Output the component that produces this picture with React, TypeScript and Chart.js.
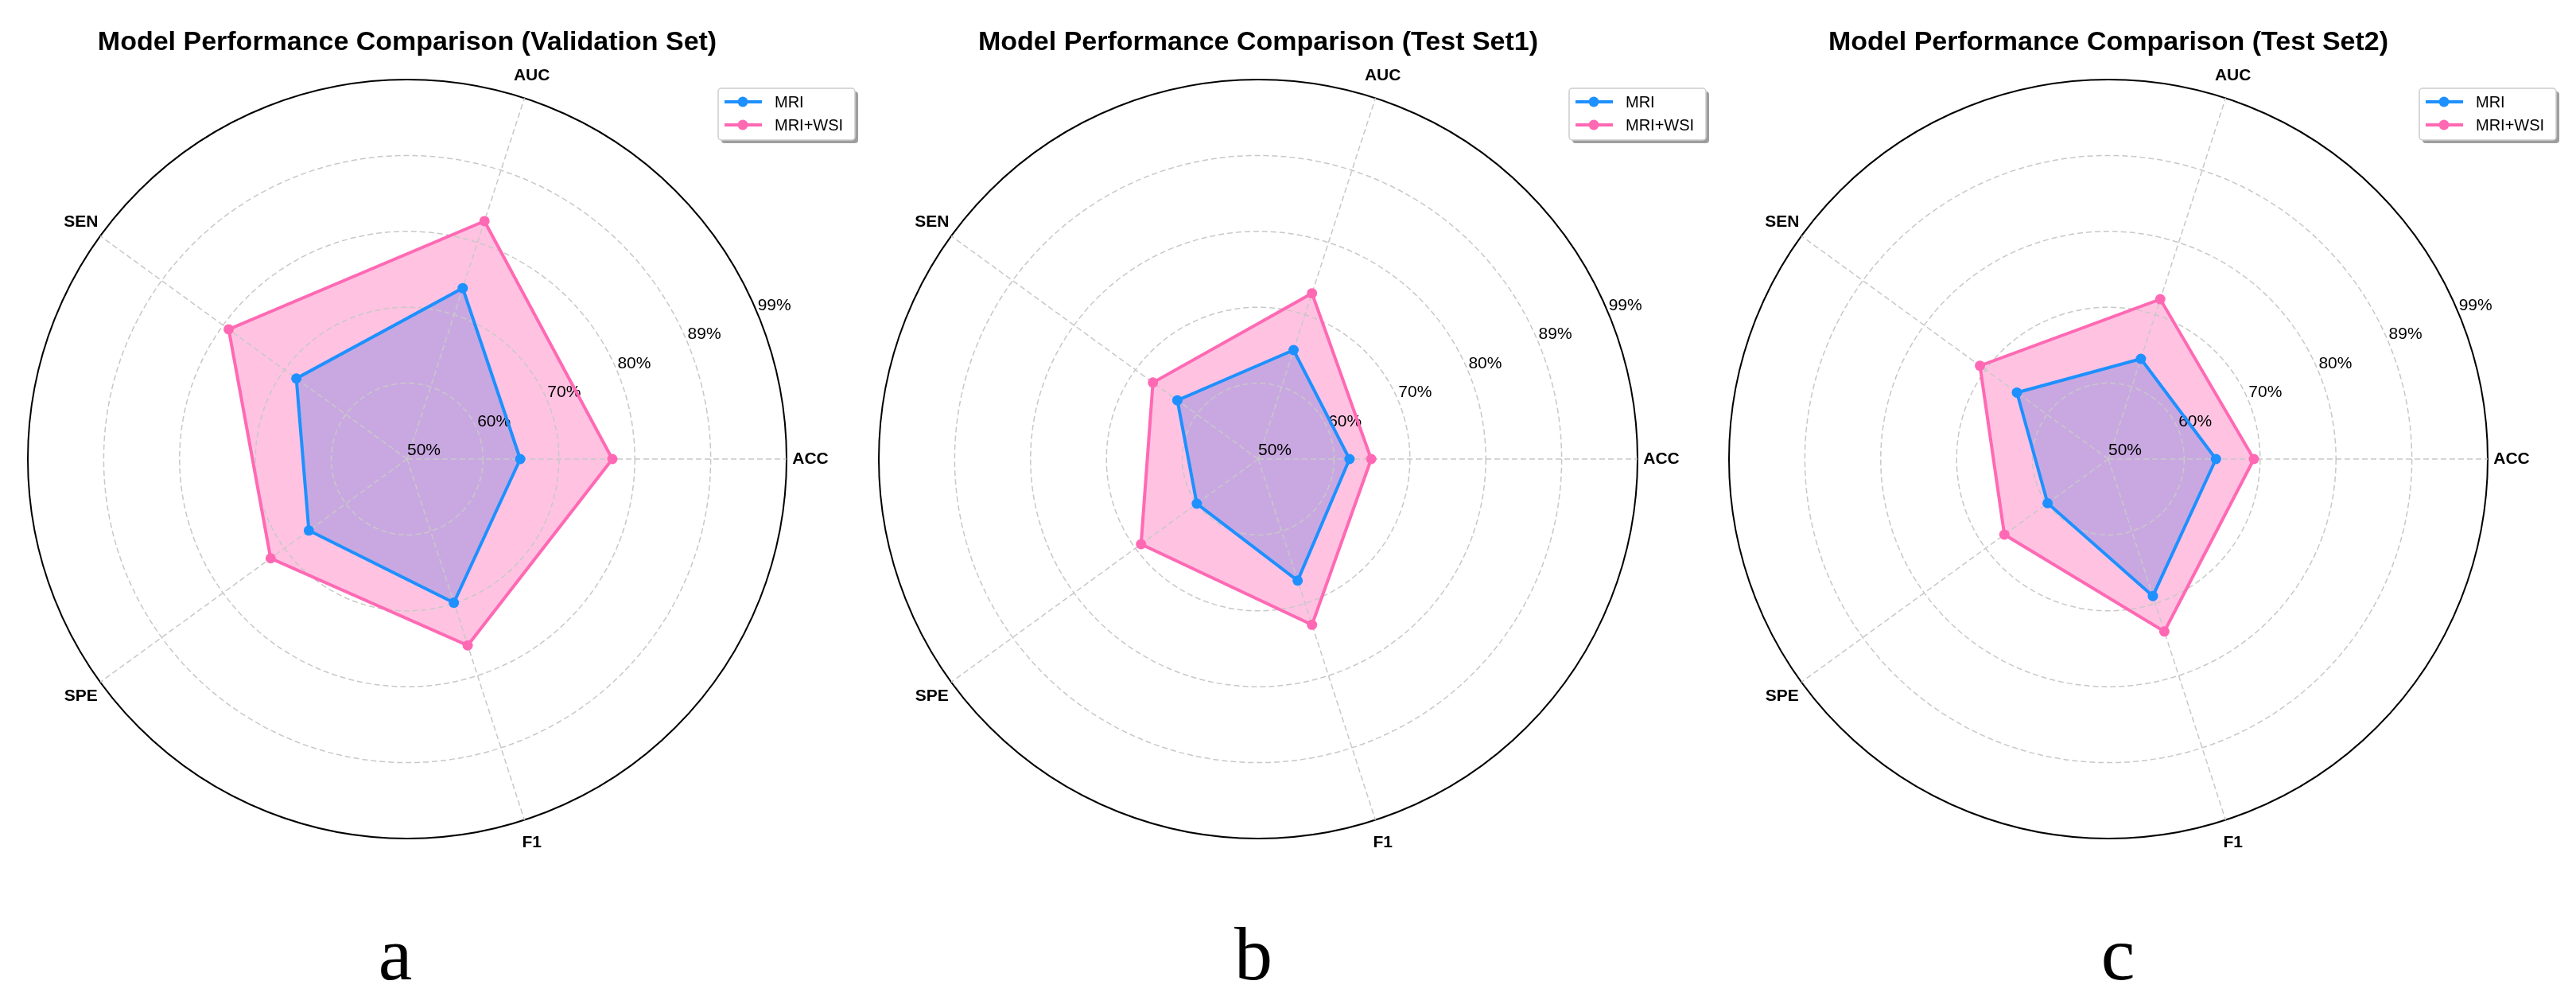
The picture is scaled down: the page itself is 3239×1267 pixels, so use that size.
import React, { useEffect, useRef } from 'react';
import { Chart, registerables } from 'chart.js';

Chart.register(...registerables);

// ---------------- data ----------------
// categories in clockwise order starting from the right-hand axis
const CATEGORIES = ['ACC', 'F1', 'SPE', 'SEN', 'AUC'];
const SERIES = ['MRI', 'MRI+WSI'];
const TICK_VALUES = [50, 59.8, 69.6, 79.4, 89.2, 99];
const TICK_LABELS = ['50%', '60%', '70%', '80%', '89%', '99%'];
const TITLES = [
  'Model Performance Comparison (Validation Set)',
  'Model Performance Comparison (Test Set1)',
  'Model Performance Comparison (Test Set2)',
];
const PANEL_LETTERS = ['a', 'b', 'c'];

const VALIDATION_MRI = [64.6, 69.5, 65.7, 67.7, 73.2];
const VALIDATION_MRI_WSI = [76.5, 75.3, 71.8, 78.5, 82.3];
const TEST1_MRI = [61.8, 66.5, 59.8, 62.9, 64.8];
const TEST1_MRI_WSI = [64.6, 72.5, 68.7, 66.8, 72.5];
const TEST2_MRI = [63.9, 68.6, 59.7, 64.6, 63.6];
const TEST2_MRI_WSI = [68.8, 73.4, 66.6, 70.5, 71.7];

const PANEL_DATA = [
  [VALIDATION_MRI, VALIDATION_MRI_WSI],
  [TEST1_MRI, TEST1_MRI_WSI],
  [TEST2_MRI, TEST2_MRI_WSI],
];

// ---------------- layout / style ----------------
const PAGE_W = 3239;
const PAGE_H = 1267;
const CENTER_X = [512, 1582, 2651];
const CENTER_Y = 577;
const RADIUS = 477;
const CANVAS_W = 1140;
const LETTER_X = [497, 1576, 2663];

const BLUE = '#1E90FF';
const PINK = '#FF69B4';
const BLUE_FILL = 'rgba(30,144,255,0.4)';
const PINK_FILL = 'rgba(255,105,180,0.4)';
const GRID = '#c8c8c8';
const FONT = '"Liberation Sans", Arial, Helvetica, sans-serif';

function roundRect(ctx: CanvasRenderingContext2D, x: number, y: number, w: number, h: number, r: number) {
  ctx.beginPath();
  ctx.moveTo(x + r, y);
  ctx.lineTo(x + w - r, y);
  ctx.arcTo(x + w, y, x + w, y + r, r);
  ctx.lineTo(x + w, y + h - r);
  ctx.arcTo(x + w, y + h, x + w - r, y + h, r);
  ctx.lineTo(x + r, y + h);
  ctx.arcTo(x, y + h, x, y + h - r, r);
  ctx.lineTo(x, y + r);
  ctx.arcTo(x, y, x + r, y, r);
  ctx.closePath();
}

function makeOverlay(panel: number) {
  return {
    id: 'overlay' + panel,
    beforeDatasetsDraw(chart: any) {
      const s = chart.scales.r;
      const ctx: CanvasRenderingContext2D = chart.ctx;
      const a = s.getIndexAngle(0) - Math.PI / 2 - Math.PI / 8;
      ctx.save();
      ctx.font = `21px ${FONT}`;
      ctx.fillStyle = '#000';
      ctx.textAlign = 'left';
      ctx.textBaseline = 'bottom';
      TICK_VALUES.forEach((v, k) => {
        const d = s.getDistanceFromCenterForValue(v);
        ctx.fillText(TICK_LABELS[k], s.xCenter + Math.cos(a) * d, s.yCenter + Math.sin(a) * d);
      });
      ctx.restore();
    },
    afterDraw(chart: any) {
      const s = chart.scales.r;
      const ctx: CanvasRenderingContext2D = chart.ctx;
      const xc = s.xCenter;
      ctx.save();
      // category labels
      ctx.font = `bold 21px ${FONT}`;
      ctx.fillStyle = '#000';
      ctx.textAlign = 'center';
      ctx.textBaseline = 'middle';
      CATEGORIES.forEach((c, i) => {
        const ang = s.getIndexAngle(i) - Math.PI / 2;
        const d = s.drawingArea + 30;
        ctx.fillText(c, xc + Math.cos(ang) * d, s.yCenter + Math.sin(ang) * d);
      });
      // title
      ctx.font = `bold 34px ${FONT}`;
      ctx.textBaseline = 'alphabetic';
      ctx.fillText(TITLES[panel], xc, 63);
      // legend
      const lx = xc + 391, ly = 111, lw = 172, lh = 65;
      ctx.fillStyle = 'rgba(0,0,0,0.38)';
      roundRect(ctx, lx + 4, ly + 4, lw, lh, 4);
      ctx.fill();
      ctx.fillStyle = '#ffffff';
      roundRect(ctx, lx, ly, lw, lh, 4);
      ctx.fill();
      ctx.strokeStyle = '#cccccc';
      ctx.lineWidth = 1.5;
      ctx.stroke();
      const colors = [BLUE, PINK];
      const ys = [128, 157];
      SERIES.forEach((name, k) => {
        ctx.strokeStyle = colors[k];
        ctx.lineWidth = 4;
        ctx.beginPath();
        ctx.moveTo(xc + 399, ys[k]);
        ctx.lineTo(xc + 446, ys[k]);
        ctx.stroke();
        ctx.fillStyle = colors[k];
        ctx.beginPath();
        ctx.arc(xc + 422, ys[k], 6.5, 0, Math.PI * 2);
        ctx.fill();
        ctx.fillStyle = '#000';
        ctx.font = `20px ${FONT}`;
        ctx.textAlign = 'left';
        ctx.textBaseline = 'middle';
        ctx.fillText(name, xc + 462, ys[k] + 1);
      });
      ctx.restore();
    },
  };
}

function Panel({ panel }: { panel: number }) {
  const ref = useRef<HTMLCanvasElement | null>(null);
  useEffect(() => {
    if (!ref.current) return;
    const [mri, wsi] = PANEL_DATA[panel];
    const last = TICK_VALUES.length - 1;
    const half = CANVAS_W / 2;
    const chart = new Chart(ref.current, {
      type: 'radar',
      data: {
        labels: CATEGORIES,
        datasets: [
          {
            label: SERIES[0],
            data: mri,
            borderColor: BLUE,
            backgroundColor: BLUE_FILL,
            fill: true,
            borderWidth: 4,
            pointRadius: 6.5,
            pointBackgroundColor: BLUE,
            pointBorderColor: BLUE,
            pointBorderWidth: 0,
            tension: 0,
            order: 1,
          },
          {
            label: SERIES[1],
            data: wsi,
            borderColor: PINK,
            backgroundColor: PINK_FILL,
            fill: true,
            borderWidth: 4,
            pointRadius: 6.5,
            pointBackgroundColor: PINK,
            pointBorderColor: PINK,
            pointBorderWidth: 0,
            tension: 0,
            order: 0,
          },
        ],
      },
      options: {
        responsive: false,
        animation: false,
        devicePixelRatio: 1,
        layout: {
          padding: {
            left: half - RADIUS,
            right: half - RADIUS,
            top: CENTER_Y - RADIUS,
            bottom: PAGE_H - CENTER_Y - RADIUS,
          },
        },
        plugins: {
          legend: { display: false },
          title: { display: false },
          tooltip: { enabled: false },
          filler: { drawTime: 'beforeDraw' },
        },
        scales: {
          r: {
            min: TICK_VALUES[0],
            max: TICK_VALUES[last],
            startAngle: 90,
            afterBuildTicks: (s: any) => {
              s.ticks = TICK_VALUES.map((v) => ({ value: v }));
            },
            ticks: { display: false },
            pointLabels: { display: false },
            angleLines: { display: true, color: GRID, lineWidth: 1.5, borderDash: [7, 4] },
            grid: {
              circular: true,
              color: (c: any) => (c.index === last ? '#000000' : GRID),
              lineWidth: (c: any) => (c.index === last ? 2 : 1.5),
            },
            border: {
              dash: (c: any) => (c.index === last ? [] : [7, 4]),
            },
          },
        },
      } as any,
      plugins: [makeOverlay(panel)],
    });
    return () => chart.destroy();
  }, [panel]);
  return (
    <canvas
      ref={ref}
      width={CANVAS_W}
      height={PAGE_H}
      style={{
        position: 'absolute',
        left: CENTER_X[panel] - CANVAS_W / 2,
        top: 0,
        width: CANVAS_W,
        height: PAGE_H,
      }}
    />
  );
}

export default function App() {
  return (
    <div
      style={{
        position: 'absolute',
        left: 0,
        top: 0,
        width: PAGE_W,
        height: PAGE_H,
        overflow: 'hidden',
        background: '#ffffff',
      }}
    >
      {[0, 1, 2].map((p) => (
        <Panel key={p} panel={p} />
      ))}
      {PANEL_LETTERS.map((l, i) => (
        <div
          key={l}
          style={{
            position: 'absolute',
            left: LETTER_X[i] - 100,
            width: 200,
            top: 1151,
            textAlign: 'center',
            fontFamily: '"Liberation Serif", "Times New Roman", serif',
            fontSize: 96,
            lineHeight: '96px',
            color: '#000',
          }}
        >
          {l}
        </div>
      ))}
    </div>
  );
}
